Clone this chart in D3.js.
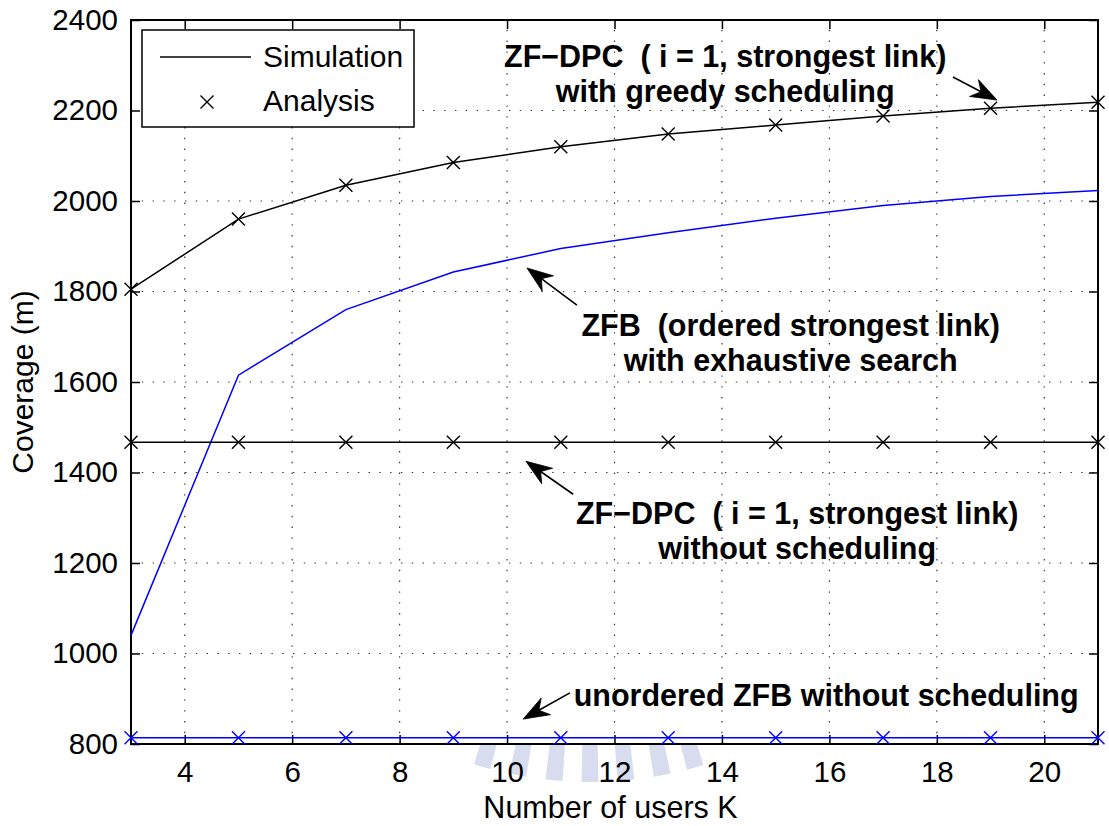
<!DOCTYPE html>
<html>
<head>
<meta charset="utf-8">
<script src="https://cdn.jsdelivr.net/npm/d3@7/dist/d3.min.js"></script>
<style>
  html, body { margin: 0; padding: 0; background: #ffffff; }
  svg { display: block; font-family: "Liberation Sans", Arial, Helvetica, sans-serif; }
  .callout { white-space: pre; }
</style>
</head>
<body>
<svg id="chart" width="1109" height="826"></svg>
<script>
// Number of users K
const users = [3, 5, 7, 9, 11, 13, 15, 17, 19, 21];

// Coverage (m) for each scheme
const dpcGreedy      = [1805, 1960, 2035, 2085, 2120, 2148, 2168, 2188, 2205, 2218];
const zfbExhaustive  = [1040, 1615, 1760, 1843, 1895, 1930, 1962, 1990, 2010, 2023];
const dpcNoSched     = [1467, 1467, 1467, 1467, 1467, 1467, 1467, 1467, 1467, 1467];
const zfbUnordered   = [814, 814, 814, 814, 814, 814, 814, 814, 814, 814];

// Axis ticks
const xTicks = [4, 6, 8, 10, 12, 14, 16, 18, 20];
const yTicks = [800, 1000, 1200, 1400, 1600, 1800, 2000, 2200, 2400];

// Series: values, colour, whether the analysis crosses are shown
const series = [
  { name: "dpcGreedy",     values: dpcGreedy,     color: "#000000", marks: true },
  { name: "zfbExhaustive", values: zfbExhaustive, color: "#0000ff", marks: false },
  { name: "dpcNoSched",    values: dpcNoSched,    color: "#000000", marks: true },
  { name: "zfbUnordered",  values: zfbUnordered,  color: "#0000ff", marks: true }
];

// Callouts (anchors in data units: K, coverage)
const callouts = [
  { lines: ["ZF\u2212DPC  ( i = 1, strongest link)", "with greedy scheduling"],
    at: [14.06, 2296], tail: [18.30, 2274], tip: [19.12, 2223] },
  { lines: ["ZFB  (ordered strongest link)", "with exhaustive search"],
    at: [15.28, 1702], tail: [11.30, 1770], tip: [10.37, 1852] },
  { lines: ["ZF\u2212DPC  ( i = 1, strongest link)", "without scheduling"],
    at: [15.40, 1286], tail: [11.23, 1352], tip: [10.35, 1425] },
  { lines: ["unordered ZFB without scheduling"],
    at: [15.94, 884], tail: [11.17, 913], tip: [10.30, 855] }
];

const W = 1109, H = 826;
const margin = { left: 131, right: 11, top: 20, bottom: 82 };
const pw = W - margin.left - margin.right;
const ph = H - margin.top - margin.bottom;

const svg = d3.select("#chart");

const x = d3.scaleLinear().domain([3, 21]).range([margin.left, margin.left + pw]);
const y = d3.scaleLinear().domain([800, 2400]).range([margin.top + ph, margin.top]);

// Faint seal below the axes (drawn first, plot area covers its upper part)
const sealCx = 590, sealCy = 393;
const sealAngles = [-16.1, -10.7, -5.3, 0, 5.3, 10.7, 15.7];
const sealArc = d3.arc().innerRadius(320).outerRadius(389);
svg.append("g")
  .attr("transform", `translate(${sealCx},${sealCy})`)
  .selectAll("path")
  .data(sealAngles)
  .join("path")
  .attr("fill", "#d7ddee")
  .attr("d", a => {
    const c = Math.PI - a * Math.PI / 180;
    const hw = 1.25 * Math.PI / 180;
    return sealArc({ startAngle: c - hw, endAngle: c + hw });
  });

// Plot background
svg.append("rect")
  .attr("x", margin.left).attr("y", margin.top)
  .attr("width", pw).attr("height", ph)
  .attr("fill", "#ffffff");

// Dotted grid
const grid = svg.append("g").attr("stroke", "#333").attr("stroke-width", 1.2)
  .attr("stroke-dasharray", "1.4,9.4");
grid.selectAll("line.gx").data(xTicks).join("line")
  .attr("class", "gx")
  .attr("x1", d => x(d)).attr("x2", d => x(d))
  .attr("y1", margin.top + ph).attr("y2", margin.top);
grid.selectAll("line.gy").data(yTicks.filter(d => d > 800 && d < 2400)).join("line")
  .attr("class", "gy")
  .attr("y1", d => y(d)).attr("y2", d => y(d))
  .attr("x1", margin.left).attr("x2", margin.left + pw);

// Axes with inward ticks on all four sides
const fontSize = 29.5;
function styleAxis(g) {
  g.selectAll(".domain").remove();
  g.selectAll(".tick line").attr("stroke", "#000").attr("stroke-width", 1.5);
  g.selectAll(".tick text").attr("fill", "#000").attr("font-size", fontSize)
    .attr("font-family", "Liberation Sans, Arial, sans-serif");
}
svg.append("g").attr("transform", `translate(0,${margin.top + ph})`)
  .call(d3.axisBottom(x).tickValues(xTicks).tickFormat(d3.format("d"))
    .tickSizeInner(-9).tickSizeOuter(0).tickPadding(17))
  .call(styleAxis);
svg.append("g").attr("transform", `translate(0,${margin.top})`)
  .call(d3.axisTop(x).tickValues(xTicks).tickSizeInner(-9).tickSizeOuter(0).tickFormat(""))
  .call(styleAxis);
svg.append("g").attr("transform", `translate(${margin.left},0)`)
  .call(d3.axisLeft(y).tickValues(yTicks).tickFormat(d3.format("d"))
    .tickSizeInner(-9).tickSizeOuter(0).tickPadding(13))
  .call(styleAxis);
svg.append("g").attr("transform", `translate(${margin.left + pw},0)`)
  .call(d3.axisRight(y).tickValues(yTicks).tickSizeInner(-9).tickSizeOuter(0).tickFormat(""))
  .call(styleAxis);

// Axes box
svg.append("rect")
  .attr("x", margin.left).attr("y", margin.top)
  .attr("width", pw).attr("height", ph)
  .attr("fill", "none").attr("stroke", "#000").attr("stroke-width", 2);

// Axis titles
svg.append("text")
  .attr("x", margin.left + pw / 2 - 4).attr("y", 818)
  .attr("text-anchor", "middle").attr("font-size", 30.5)
  .text("Number of users K");
svg.append("text")
  .attr("transform", `translate(33,${margin.top + ph / 2}) rotate(-90)`)
  .attr("text-anchor", "middle").attr("font-size", 30)
  .text("Coverage (m)");

// Cross marker path
const cross = s => `M${-s},${-s}L${s},${s}M${-s},${s}L${s},${-s}`;

// Series lines and crosses
const line = d3.line().x((d, i) => x(users[i])).y(d => y(d));
const plot = svg.append("g");
series.forEach(s => {
  plot.append("path")
    .attr("d", line(s.values))
    .attr("fill", "none").attr("stroke", s.color).attr("stroke-width", 1.5);
  if (s.marks) {
    plot.append("g").selectAll("path")
      .data(s.values)
      .join("path")
      .attr("transform", (d, i) => `translate(${x(users[i])},${y(d)})`)
      .attr("d", cross(6.5))
      .attr("fill", "none").attr("stroke", s.color).attr("stroke-width", 1.4);
  }
});

// Callouts: bold text and arrows
const ann = svg.append("g");
callouts.forEach(c => {
  const cx = x(c.at[0]), cy = y(c.at[1]);
  const t = ann.append("text")
    .attr("class", "callout")
    .attr("xml:space", "preserve")
    .attr("text-anchor", "middle").attr("font-size", 30.5).attr("font-weight", "bold");
  c.lines.forEach((ln, i) => {
    t.append("tspan").attr("x", cx).attr("y", cy + i * 35).text(ln);
  });
  const x0 = x(c.tail[0]), y0 = y(c.tail[1]);
  const x1 = x(c.tip[0]),  y1 = y(c.tip[1]);
  const dx = x1 - x0, dy = y1 - y0, len = Math.hypot(dx, dy);
  const ux = dx / len, uy = dy / len, nx = -uy, ny = ux;
  const L = 26, hw = 9.5, notch = 18;
  ann.append("line")
    .attr("x1", x0).attr("y1", y0)
    .attr("x2", x1 - ux * notch).attr("y2", y1 - uy * notch)
    .attr("stroke", "#000").attr("stroke-width", 1.6);
  const pts = [
    [x1, y1],
    [x1 - ux * L + nx * hw, y1 - uy * L + ny * hw],
    [x1 - ux * notch, y1 - uy * notch],
    [x1 - ux * L - nx * hw, y1 - uy * L - ny * hw]
  ];
  ann.append("path")
    .attr("d", "M" + pts.map(p => p.join(",")).join("L") + "Z")
    .attr("fill", "#000").attr("stroke", "#000").attr("stroke-width", 0.8);
});

// Legend
const lg = svg.append("g");
lg.append("rect")
  .attr("x", 142).attr("y", 30).attr("width", 272).attr("height", 97)
  .attr("fill", "#ffffff").attr("stroke", "#000").attr("stroke-width", 1.5);
lg.append("line")
  .attr("x1", 160).attr("x2", 251).attr("y1", 57).attr("y2", 57)
  .attr("stroke", "#000").attr("stroke-width", 1.5);
lg.append("path")
  .attr("transform", "translate(207,102)")
  .attr("d", cross(6.5))
  .attr("fill", "none").attr("stroke", "#000").attr("stroke-width", 1.4);
lg.append("text").attr("x", 263).attr("y", 67).attr("font-size", 30).text("Simulation");
lg.append("text").attr("x", 263).attr("y", 111).attr("font-size", 30).text("Analysis");
</script>
</body>
</html>
